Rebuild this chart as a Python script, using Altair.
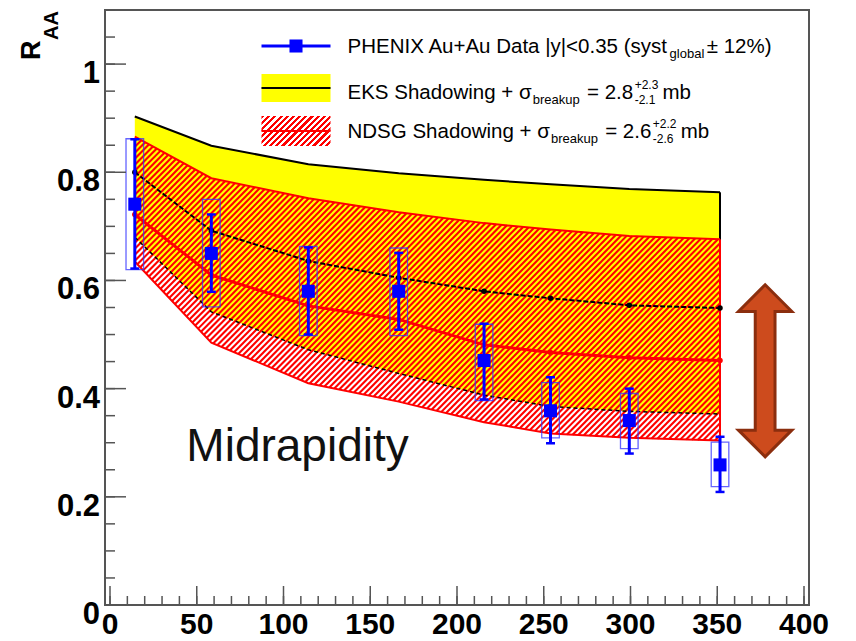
import altair as alt
import numpy as np
import pandas as pd

# ---------------- data ----------------
npart = [14.3, 58.4, 114.3, 166.4, 215.6, 253.9, 299.3, 351.6]
raa = [0.741, 0.650, 0.580, 0.580, 0.452, 0.359, 0.341, 0.259]
stat_hi = [0.861, 0.722, 0.661, 0.651, 0.520, 0.421, 0.400, 0.311]
stat_lo = [0.622, 0.579, 0.500, 0.509, 0.380, 0.299, 0.280, 0.209]
syst_hi = [0.862, 0.750, 0.663, 0.660, 0.519, 0.411, 0.391, 0.301]
syst_lo = [0.620, 0.551, 0.498, 0.498, 0.378, 0.309, 0.289, 0.219]

eks_hi = [0.903, 0.849, 0.815, 0.798, 0.786, 0.778, 0.769, 0.763]
eks_mid = [0.800, 0.692, 0.636, 0.605, 0.580, 0.567, 0.554, 0.549]
eks_lo = [0.680, 0.542, 0.472, 0.428, 0.388, 0.367, 0.358, 0.353]

ndsg_hi = [0.866, 0.789, 0.752, 0.726, 0.706, 0.694, 0.682, 0.676]
ndsg_mid = [0.722, 0.610, 0.553, 0.528, 0.481, 0.467, 0.457, 0.452]
ndsg_lo = [0.635, 0.485, 0.410, 0.376, 0.338, 0.317, 0.309, 0.304]

x_major = [0, 50, 100, 150, 200, 250, 300, 350, 400]
x_labels = ["0", "50", "100", "150", "200", "250", "300", "350", "400"]
x_minor = list(range(0, 401, 10))
y_major = [0, 0.2, 0.4, 0.6, 0.8, 1.0]
y_labels = ["0", "0.2", "0.4", "0.6", "0.8", "1"]
y_minor = [round(0.05 * i, 2) for i in range(23)]

# ---------------- layout / style ----------------
W, H = 704, 595
XMAX, YMAX = 400, 1.1
FONT = "Liberation Sans"
BLUE = "#0000ff"
RED = "#ff0000"
YELLOW = "#ffff00"
FRAME = "#555555"

df = pd.DataFrame(dict(n=npart, raa=raa, shi=stat_hi, slo=stat_lo,
                       yhi=syst_hi, ylo=syst_lo,
                       ehi=eks_hi, emid=eks_mid, elo=eks_lo,
                       nhi=ndsg_hi, nmid=ndsg_mid, nlo=ndsg_lo))

xs = alt.Scale(domain=[0, XMAX], nice=False, zero=False)
ys = alt.Scale(domain=[0, YMAX], nice=False, zero=False)


def X(f):
    return alt.X(f, type="quantitative", scale=xs, axis=None)


def Y(f):
    return alt.Y(f, type="quantitative", scale=ys, axis=None)


def hatch(w_px, h_px, period=6.0, color=RED):
    s = w_px + h_px
    k = s / (w_px ** 2 + h_px ** 2)
    n = int(round(s / period))
    clear = "rgba(255,0,0,0)"
    stops = []
    for i in range(n):
        a, b, c = i / n, (i + 0.5) / n, (i + 1) / n
        stops += [alt.GradientStop(offset=a, color=color),
                  alt.GradientStop(offset=b, color=color),
                  alt.GradientStop(offset=b, color=clear),
                  alt.GradientStop(offset=c, color=clear)]
    return alt.LinearGradient(gradient="linear", stops=stops,
                              x1=0, y1=0, x2=w_px * k, y2=h_px * k)


# hatch strokes ("/" at 45 degrees on screen) clipped to the NDSG band
def hatch_segments(xv, lo, hi, period=6.0):
    px = np.array(xv) * W / XMAX
    top = (YMAX - np.array(hi)) * H / YMAX
    bot = (YMAX - np.array(lo)) * H / YMAX
    f_top = px + top
    f_bot = px + bot
    rows = []
    c = np.floor(f_top.min() / period) * period
    while c <= f_bot.max():
        xa = np.interp(c, f_bot, px)
        xb = np.interp(c, f_top, px)
        if xb - xa > 0.3:
            rows.append(dict(n1=xa * XMAX / W, v1=YMAX - (c - xa) * YMAX / H,
                             n2=xb * XMAX / W, v2=YMAX - (c - xb) * YMAX / H))
        c += period
    return pd.DataFrame(rows)


base = alt.Chart(df)

eks_band = base.mark_area(color=YELLOW, opacity=1).encode(x=X("n"), y=Y("elo"), y2="ehi")

hatch_df = hatch_segments(npart, ndsg_lo, ndsg_hi)
ndsg_hatch = alt.Chart(hatch_df).mark_rule(color=RED, strokeWidth=2.1, strokeCap="butt").encode(
    x=X("n1"), y=Y("v1"), x2="n2", y2="v2")

one = pd.DataFrame({"k": [0]})
eks_top = base.mark_line(color="black", strokeWidth=2).encode(x=X("n"), y=Y("ehi"))
eks_edge = alt.Chart(one).mark_rule(color="black", strokeWidth=2).encode(
    x=alt.datum(npart[-1], scale=xs, axis=None), y=alt.datum(eks_lo[-1], scale=ys, axis=None),
    y2=alt.datum(eks_hi[-1]))
ndsg_edge = alt.Chart(one).mark_rule(color=RED, strokeWidth=2).encode(
    x=alt.datum(npart[-1], scale=xs, axis=None), y=alt.datum(ndsg_lo[-1], scale=ys, axis=None),
    y2=alt.datum(ndsg_hi[-1]))
ndsg_top = base.mark_line(color=RED, strokeWidth=2).encode(x=X("n"), y=Y("nhi"))
ndsg_bot = base.mark_line(color=RED, strokeWidth=2).encode(x=X("n"), y=Y("nlo"))
eks_bot = base.mark_line(color="black", strokeWidth=1.5, strokeDash=[4, 3]).encode(x=X("n"), y=Y("elo"))
eks_c = base.mark_line(color="black", strokeWidth=2, strokeDash=[5, 2]).encode(x=X("n"), y=Y("emid"))
eks_c_pts = base.mark_circle(color="black", size=30, opacity=1).encode(x=X("n"), y=Y("emid"))
ndsg_c = base.mark_line(color=RED, strokeWidth=3).encode(x=X("n"), y=Y("nmid"))
ndsg_c_pts = base.mark_circle(color=RED, size=30, opacity=1).encode(x=X("n"), y=Y("nmid"))

# data points
syst = base.mark_bar(size=17.6, fillOpacity=0, stroke="#3030ff", strokeWidth=1.3,
                     strokeOpacity=0.75).encode(x=X("n"), y=Y("ylo"), y2="yhi")
err = base.mark_rule(color=BLUE, strokeWidth=3).encode(x=X("n"), y=Y("slo"), y2="shi")
cap_hi = base.mark_tick(orient="horizontal", size=9, thickness=2.5, color=BLUE, opacity=1).encode(
    x=X("n"), y=Y("shi"))
cap_lo = base.mark_tick(orient="horizontal", size=9, thickness=2.5, color=BLUE, opacity=1).encode(
    x=X("n"), y=Y("slo"))
pts = base.mark_square(size=170, color=BLUE, opacity=1).encode(x=X("n"), y=Y("raa"))

midra = alt.Chart(one).mark_text(text="Midrapidity", font=FONT, fontSize=46, color="#111111",
                                 align="left", baseline="alphabetic").encode(
    x=alt.datum(44.0, scale=xs, axis=None), y=alt.datum(0.266, scale=ys, axis=None))

arrow_path = ("M0,-1L0.31,-0.69L0.115,-0.69L0.115,0.69L0.31,0.69L0,1"
              "L-0.31,0.69L-0.115,0.69L-0.115,-0.69L-0.31,-0.69Z")
arrow = alt.Chart(one).mark_point(shape=arrow_path, size=29584, filled=True, fill="#cd4b1d",
                                  stroke="#8b2e0e", strokeWidth=3, opacity=1).encode(
    x=alt.datum(377.6, scale=xs, axis=None), y=alt.datum(0.433, scale=ys, axis=None))


def txt(s, x, y, size=20.5, weight="normal", angle=0):
    return alt.Chart(one).mark_text(text=s, font=FONT, fontSize=size, fontWeight=weight,
                                    angle=angle, align="left", baseline="alphabetic",
                                    color="black").encode(x=alt.value(x), y=alt.value(y))


# approximate advance widths (em) of Liberation Sans, used to chain text pieces
EM = {" ": .278, "+": .584, "-": .333, ".": .278, "<": .584, "=": .584, "(": .333, ")": .333,
      "|": .26, "%": .889, "±": .584, "σ": .6,
      "A": .667, "D": .722, "E": .667, "G": .778, "H": .722, "I": .278, "K": .667, "N": .722,
      "P": .667, "S": .667, "X": .667, "a": .556, "b": .556, "d": .556, "e": .556, "g": .556,
      "h": .556, "i": .222, "k": .5, "l": .222, "m": .833, "n": .556, "o": .556, "p": .556,
      "r": .333, "s": .5, "t": .278, "u": .556, "w": .722, "y": .5}


def width(s, size):
    return sum(EM.get(ch, .556) for ch in s) * size


def chain(pieces, x0, base_y):
    """pieces: (text, size, dy, gap_before, advance?)"""
    out = []
    x = x0
    for s, size, dy, gap, adv in pieces:
        x += gap
        out.append(txt(s, x, base_y + dy, size=size))
        if adv:
            x += width(s, size) + 1.5
    return out


BIG, SMALL, SUP = 20.5, 13, 12
SP = 0.278 * BIG
TX = 242.5
L0, L1 = 156.5, 225.5
leg = [
    alt.Chart(one).mark_rule(color=BLUE, strokeWidth=3).encode(
        x=alt.value(L0), x2=alt.value(L1), y=alt.value(36)),
    alt.Chart(one).mark_square(size=170, color=BLUE, opacity=1).encode(
        x=alt.value((L0 + L1) / 2), y=alt.value(36)),
    alt.Chart(one).mark_rect(color=YELLOW).encode(
        x=alt.value(L0), x2=alt.value(L1), y=alt.value(64), y2=alt.value(92)),
    alt.Chart(one).mark_rule(color="black", strokeWidth=2).encode(
        x=alt.value(L0), x2=alt.value(L1), y=alt.value(78)),
    alt.Chart(one).mark_rect(fill=hatch(L1 - L0, 30)).encode(
        x=alt.value(L0), x2=alt.value(L1), y=alt.value(106), y2=alt.value(136)),
    alt.Chart(one).mark_rule(color=RED, strokeWidth=2).encode(
        x=alt.value(L0), x2=alt.value(L1), y=alt.value(121)),
]
leg += chain([("PHENIX Au+Au Data |y|<0.35 (syst", BIG, 0, 0, True),
              ("global", SMALL, 5, 0, True),
              ("± 12%)", BIG, 0, 1, True)], TX, 43.3)
leg += chain([("EKS Shadowing + σ", BIG, 0, 0, True),
              ("breakup", SMALL, 5, 0, True),
              ("= 2.8", BIG, 0, SP, True),
              ("+2.3", SUP, -10.5, 0, False),
              ("-2.1", SUP, 5, 0, True),
              ("mb", BIG, 0, SP, True)], TX, 89.3)
leg += chain([("NDSG Shadowing + σ", BIG, 0, 0, True),
              ("breakup", SMALL, 5, 0, True),
              ("= 2.6", BIG, 0, SP, True),
              ("+2.2", SUP, -10.5, 0, False),
              ("-2.6", SUP, 5, 0, True),
              ("mb", BIG, 0, SP, True)], TX, 128.3)

# ticks drawn inside the frame
xt_major = alt.Chart(pd.DataFrame({"v": x_major})).mark_rule(color=FRAME, strokeWidth=1.5).encode(
    x=X("v"), y=alt.value(H), y2=alt.value(H - 19))
xt_minor = alt.Chart(pd.DataFrame({"v": x_minor})).mark_rule(color=FRAME, strokeWidth=1.5).encode(
    x=X("v"), y=alt.value(H), y2=alt.value(H - 9))
yt_major = alt.Chart(pd.DataFrame({"v": y_major})).mark_rule(color=FRAME, strokeWidth=1.5).encode(
    y=Y("v"), x=alt.value(0), x2=alt.value(21))
yt_minor = alt.Chart(pd.DataFrame({"v": y_minor})).mark_rule(color=FRAME, strokeWidth=1.5).encode(
    y=Y("v"), x=alt.value(0), x2=alt.value(10))

# tick labels
xl = alt.Chart(pd.DataFrame({"v": x_major, "t": x_labels})).mark_text(
    font=FONT, fontSize=30, fontWeight="bold", color="black", align="center",
    baseline="alphabetic").encode(x=X("v"), y=alt.value(H + 29), text="t:N")
yl = alt.Chart(pd.DataFrame({"v": y_major, "t": y_labels})).mark_text(
    font=FONT, fontSize=31, fontWeight="bold", color="black", align="right",
    baseline="middle", dy=10).encode(y=Y("v"), x=alt.value(-5), text="t:N")

title_r = txt("R", -65, 50, size=27, weight="bold", angle=270)
title_aa = txt("AA", -47, 30, size=20, weight="bold", angle=270)

chart = alt.layer(
    eks_band, ndsg_hatch, eks_top, eks_edge, ndsg_edge, ndsg_top, ndsg_bot,
    eks_bot, eks_c, eks_c_pts, ndsg_c, ndsg_c_pts,
    syst, err, cap_hi, cap_lo, pts, midra, arrow,
    *leg,
    xt_major, xt_minor, yt_major, yt_minor, xl, yl, title_r, title_aa,
).properties(
    width=W, height=H,
    autosize=alt.AutoSizeParams(type="none"),
    padding={"left": 105, "top": 10, "right": 47, "bottom": 36},
).configure_view(stroke=FRAME, strokeWidth=2)

chart.save("out.html", embed_options={"renderer": "svg", "actions": False})
